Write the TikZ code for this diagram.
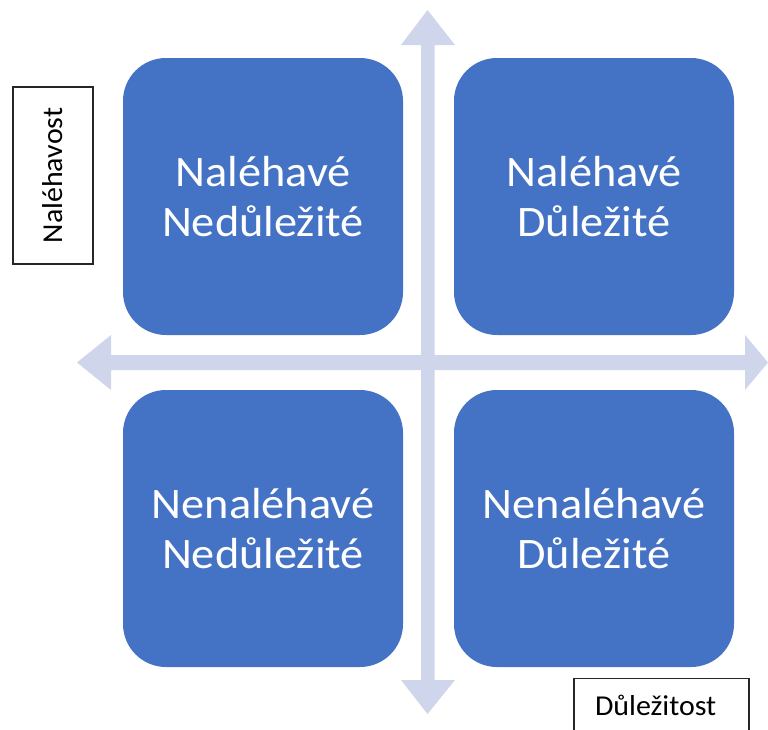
\documentclass[tikz,border=0pt]{standalone}
\usepackage{fontspec}
\setmainfont{Carlito}
\newfontfamily\tilefont[FakeStretch=1.065]{Carlito}
\newfontfamily\tagfont[FakeStretch=1.04]{Carlito}
\definecolor{tileblue}{HTML}{4472C4}
\definecolor{axislav}{HTML}{CFD5EA}
\begin{document}
\begin{tikzpicture}[x=1pt,y=-1pt,
  tile/.style={fill=tileblue, draw=none, rounded corners=43pt,
    minimum width=280pt, minimum height=277pt, inner sep=0pt,
    text=white, align=center, font=\tilefont\fontsize{43.5}{50}\selectfont},
  axis/.style={fill=axislav, draw=none},
  tag/.style={draw=black!85, line width=1.1pt, fill=white,
    font=\tagfont\fontsize{28.8}{34}\selectfont}]
\useasboundingbox (0,0) rectangle (768,729);

% axes: vertical and horizontal double-headed arrows
\fill[axis] (421,45) -- (401,45) -- (427.5,10) -- (455,45) -- (434.5,45)
  -- (434.5,680) -- (455,680) -- (427.5,714) -- (401,680) -- (421,680) -- cycle;
\fill[axis] (111,355) -- (111,335) -- (77,362.5) -- (111,390) -- (111,370)
  -- (745,370) -- (745,390) -- (768,362.5) -- (745,335) -- (745,355) -- cycle;

% quadrant tiles
\node[tile] (un) at (263,196.5) {Naléhavé\\Nedůležité};
\node[tile] (ui) at (594,196.5) {Naléhavé\\Důležité};
\node[tile] (nn) at (263,528.5) {Nenaléhavé\\Nedůležité};
\node[tile] (ni) at (594,528.5) {Nenaléhavé\\Důležité};

% axis captions
\node[tag, rotate=90, minimum width=177pt, minimum height=80pt, inner sep=0pt,
  text height=19pt, text depth=1pt] (urg) at (53,175.5) {Naléhavost};
\node[tag, anchor=north, minimum width=175pt, inner xsep=21pt, inner ysep=15pt,
  text width=133pt, align=left, text height=22pt, text depth=20pt]
  (imp) at (661.5,678) {Důležitost};
\end{tikzpicture}
\end{document}
